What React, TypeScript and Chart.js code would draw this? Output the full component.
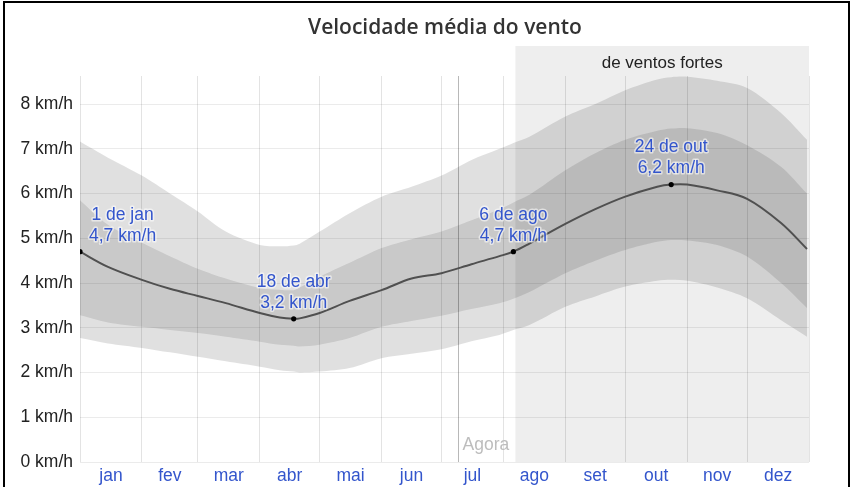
import React, { useEffect, useRef } from "react";
import { Chart, registerables } from "chart.js";

Chart.register(...registerables);

// ---- data ----
const days = [0, 14, 31, 45, 59, 73, 90, 100, 107, 110, 120, 135, 151, 166, 181, 196, 210, 217, 225, 243, 258, 273, 289, 296, 304, 319, 334, 351, 364];
const meanSpeed = [4.7, 4.36, 4.07, 3.87, 3.71, 3.55, 3.33, 3.23, 3.2, 3.21, 3.33, 3.6, 3.84, 4.1, 4.22, 4.42, 4.6, 4.7, 4.88, 5.32, 5.65, 5.93, 6.15, 6.2, 6.2, 6.07, 5.88, 5.34, 4.76];
const p90 = [7.16, 6.8, 6.4, 6.0, 5.6, 5.15, 4.85, 4.82, 4.84, 4.88, 5.15, 5.56, 5.93, 6.15, 6.4, 6.75, 7.0, 7.13, 7.27, 7.72, 8.0, 8.31, 8.55, 8.6, 8.61, 8.52, 8.36, 7.8, 7.2];
const p75 = [5.85, 5.3, 4.9, 4.6, 4.32, 4.1, 3.89, 3.85, 3.84, 3.9, 4.14, 4.45, 4.78, 4.98, 5.15, 5.4, 5.65, 5.8, 5.97, 6.52, 6.9, 7.2, 7.4, 7.45, 7.46, 7.35, 7.08, 6.6, 6.0];
const p25 = [3.28, 3.12, 3.02, 2.95, 2.88, 2.8, 2.69, 2.62, 2.6, 2.58, 2.62, 2.77, 3.02, 3.15, 3.27, 3.42, 3.55, 3.65, 3.8, 4.22, 4.5, 4.74, 4.92, 4.96, 4.95, 4.85, 4.59, 4.0, 3.44];
const p10 = [2.77, 2.65, 2.55, 2.45, 2.35, 2.25, 2.13, 2.05, 2.02, 2.0, 2.02, 2.1, 2.32, 2.42, 2.52, 2.7, 2.84, 2.95, 3.06, 3.47, 3.7, 3.92, 4.05, 4.07, 4.05, 3.9, 3.66, 3.17, 2.8];

const monthLabels = ["jan", "fev", "mar", "abr", "mai", "jun", "jul", "ago", "set", "out", "nov", "dez"];
const monthStarts = [0, 31, 59, 90, 120, 151, 181, 212, 243, 273, 304, 334, 365];
const yTickValues = [0, 1, 2, 3, 4, 5, 6, 7, 8];

const annotDays = [0, 107, 217, 296];
const annotValues = [4.7, 3.2, 4.7, 6.2];
const annotDates = ["1 de jan", "18 de abr", "6 de ago", "24 de out"];
const annotSpeeds = ["4,7 km/h", "3,2 km/h", "4,7 km/h", "6,2 km/h"];

const strongStartDay = 218;
const nowDay = 189.5;
const titleText = "Velocidade média do vento";
const strongText = "de ventos fortes";
const nowText = "Agora";

const FONT = "'Liberation Sans', Arial, sans-serif";
const BLUE = "#3355cc";

const toPts = (vals: number[]) => days.map((d, i) => ({ x: d, y: vals[i] }));

const decorPlugin = {
  id: "decor",
  beforeDraw(chart: any) {
    const { ctx, chartArea, scales } = chart;
    const xs = scales.x;
    ctx.save();
    // title
    ctx.fillStyle = "#333";
    ctx.font = "600 21px 'Open Sans', sans-serif";
    ctx.textAlign = "center";
    ctx.textBaseline = "middle";
    ctx.fillText(titleText, 445, 28);
    // strong wind season box
    const x0 = xs.getPixelForValue(strongStartDay);
    const x1 = chartArea.right;
    ctx.fillStyle = "#eeeeee";
    ctx.fillRect(x0, 46, x1 - x0, chartArea.bottom - 46);
    ctx.fillStyle = "#222";
    ctx.font = `17px ${FONT}`;
    ctx.fillText(strongText, (x0 + x1) / 2, 63);
    ctx.restore();
  },
  beforeDatasetsDraw(chart: any) {
    const { ctx, chartArea, scales } = chart;
    const x = Math.round(scales.x.getPixelForValue(nowDay)) + 0.5;
    ctx.save();
    ctx.strokeStyle = "rgba(0,0,0,0.28)";
    ctx.lineWidth = 1;
    ctx.beginPath();
    ctx.moveTo(x, chartArea.top);
    ctx.lineTo(x, chartArea.bottom);
    ctx.stroke();
    ctx.fillStyle = "#bdbdbd";
    ctx.font = `17.5px ${FONT}`;
    ctx.textAlign = "left";
    ctx.textBaseline = "middle";
    ctx.fillText(nowText, x + 4, 445);
    ctx.restore();
  },
  afterDatasetsDraw(chart: any) {
    const { ctx, chartArea, scales } = chart;
    ctx.save();
    ctx.font = `17.5px ${FONT}`;
    ctx.textAlign = "center";
    ctx.textBaseline = "middle";
    ctx.lineJoin = "round";
    for (let i = 0; i < annotDays.length; i++) {
      const px = scales.x.getPixelForValue(annotDays[i]);
      const py = scales.y.getPixelForValue(annotValues[i]);
      const w = Math.max(ctx.measureText(annotDates[i]).width, ctx.measureText(annotSpeeds[i]).width);
      let cx = px;
      if (cx - w / 2 < chartArea.left + 9) cx = chartArea.left + 9 + w / 2;
      if (cx + w / 2 > chartArea.right - 9) cx = chartArea.right - 9 - w / 2;
      const lines = [
        { t: annotDates[i], y: py - 37 },
        { t: annotSpeeds[i], y: py - 16 },
      ];
      for (const l of lines) {
        ctx.strokeStyle = "rgba(255,255,255,0.55)";
        ctx.lineWidth = 3;
        ctx.strokeText(l.t, cx, l.y);
        ctx.fillStyle = BLUE;
        ctx.fillText(l.t, cx, l.y);
      }
    }
    ctx.restore();
  },
};

export default function App() {
  const ref = useRef<HTMLCanvasElement | null>(null);
  useEffect(() => {
    if (!ref.current) return;
    const chart = new Chart(ref.current, {
      type: "line",
      data: {
        datasets: [
          {
            type: "scatter",
            data: annotDays.map((d, i) => ({ x: d, y: annotValues[i] })),
            pointRadius: 2.6,
            pointBackgroundColor: "#000",
            pointBorderWidth: 0,
            showLine: false,
          } as any,
          {
            data: toPts(meanSpeed),
            borderColor: "#505050",
            borderWidth: 2,
            pointRadius: 0,
            tension: 0.35,
            fill: false,
          },
          {
            data: toPts(p90),
            borderWidth: 0,
            pointRadius: 0,
            tension: 0.3,
            backgroundColor: "rgba(0,0,0,0.12)",
            fill: 5,
          },
          {
            data: toPts(p75),
            borderWidth: 0,
            pointRadius: 0,
            tension: 0.3,
            backgroundColor: "rgba(0,0,0,0.105)",
            fill: 4,
          },
          {
            data: toPts(p25),
            borderWidth: 0,
            pointRadius: 0,
            tension: 0.3,
            fill: false,
          },
          {
            data: toPts(p10),
            borderWidth: 0,
            pointRadius: 0,
            tension: 0.3,
            fill: false,
          },
        ],
      },
      options: {
        responsive: false,
        animation: false,
        events: [],
        layout: { padding: { left: 0, top: 76, right: 43, bottom: 0 } },
        plugins: {
          legend: { display: false },
          tooltip: { enabled: false },
          title: { display: false },
        },
        scales: {
          x: {
            type: "linear",
            position: "bottom",
            min: 0,
            max: 365,
            afterBuildTicks: (s: any) => {
              s.ticks = monthStarts.map((v) => ({ value: v }));
            },
            afterFit: (s: any) => {
              s.height = 0;
            },
            ticks: { display: false },
            grid: { color: "rgba(0,0,0,0.11)", drawTicks: false },
            border: { display: false },
          },
          x2: {
            type: "linear",
            position: "bottom",
            min: 0,
            max: 365,
            afterBuildTicks: (s: any) => {
              s.ticks = monthLabels.map((_, i) => ({ value: (monthStarts[i] + monthStarts[i + 1]) / 2 }));
            },
            afterFit: (s: any) => {
              s.height = 25;
            },
            ticks: {
              autoSkip: false,
              maxRotation: 0,
              padding: 4,
              color: BLUE,
              font: { family: FONT, size: 17.5 },
              callback: (_v: any, i: number) => monthLabels[i],
            },
            grid: { display: false, drawTicks: false },
            border: { display: false },
          },
          y: {
            type: "linear",
            min: 0,
            max: 8.626,
            afterBuildTicks: (s: any) => {
              s.ticks = yTickValues.map((v) => ({ value: v }));
            },
            afterFit: (s: any) => {
              s.width = 80;
            },
            ticks: {
              padding: 7,
              color: "#222",
              font: { family: FONT, size: 17.5 },
              callback: (v: any) => `${v} km/h`,
            },
            grid: { color: "rgba(0,0,0,0.08)", drawTicks: false },
            border: { display: false },
          },
        },
      },
      plugins: [decorPlugin],
    } as any);
    return () => chart.destroy();
  }, []);

  return (
    <div
      style={{
        position: "fixed",
        left: 0,
        top: 0,
        width: 852,
        height: 487,
        background: "#fff",
        overflow: "hidden",
      }}
    >
      <div
        style={{
          position: "absolute",
          left: 3,
          top: 1,
          width: 843,
          height: 490,
          borderLeft: "2px solid #000",
          borderTop: "2px solid #000",
          borderRight: "2px solid #000",
        }}
      />
      <canvas ref={ref} width={852} height={487} style={{ position: "absolute", left: 0, top: 0 }} />
    </div>
  );
}
